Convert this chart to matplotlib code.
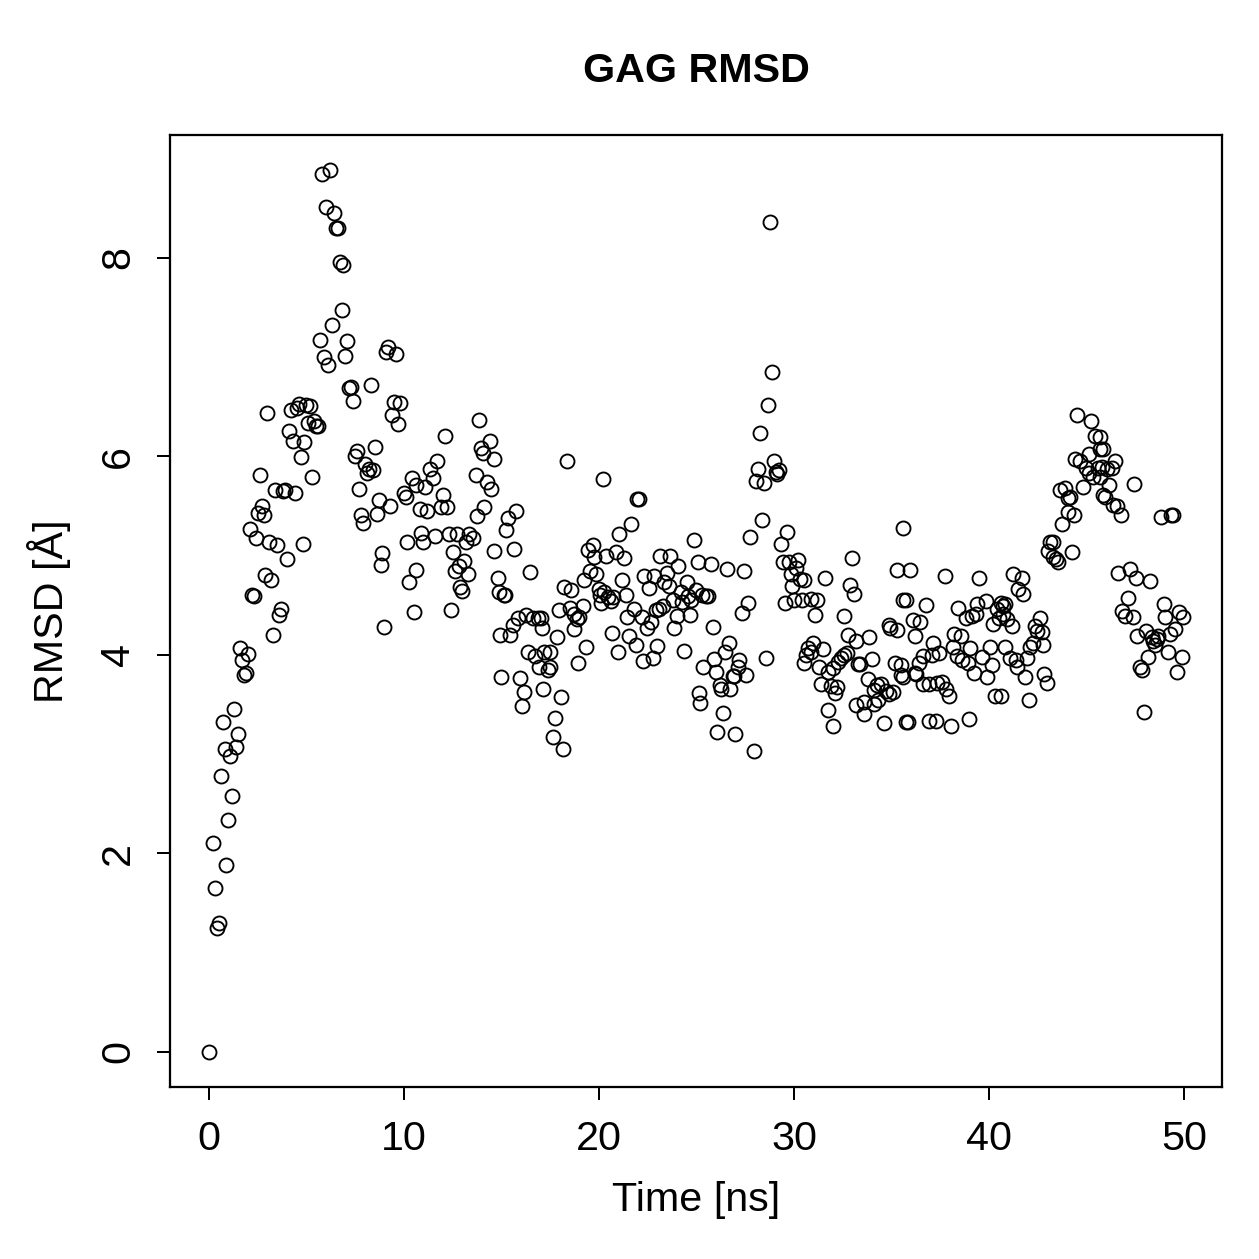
import numpy as np
import matplotlib
matplotlib.use("Agg")
import matplotlib.pyplot as plt

# RMSD of GAG over the trajectory
time_ns = [
    0.0, 0.2, 0.3, 0.4, 0.5, 0.6, 0.7, 0.8, 0.9, 1.0, 1.1, 1.2, 1.3, 1.4, 1.5, 1.6, 1.7, 1.8, 1.9, 2.0,
    2.1, 2.2, 2.3, 2.4, 2.5, 2.6, 2.7, 2.8, 2.9, 3.0, 3.1, 3.2, 3.3, 3.4, 3.5, 3.6, 3.7, 3.8, 3.9, 4.0,
    4.1, 4.2, 4.3, 4.4, 4.5, 4.6, 4.7, 4.8, 4.9, 5.0, 5.1, 5.2, 5.3, 5.4, 5.5, 5.6, 5.7, 5.8, 5.9, 6.0,
    6.1, 6.2, 6.3, 6.4, 6.5, 6.6, 6.7, 6.8, 6.9, 7.0, 7.1, 7.2, 7.3, 7.4, 7.5, 7.6, 7.7, 7.8, 7.9, 8.0,
    8.1, 8.2, 8.3, 8.4, 8.5, 8.6, 8.7, 8.8, 8.9, 9.0, 9.1, 9.2, 9.3, 9.4, 9.5, 9.6, 9.7, 9.8,
    10.0, 10.1, 10.18, 10.24, 10.4, 10.5, 10.6, 10.64, 10.8, 10.85, 11.0, 11.06, 11.2, 11.36, 11.5,
    11.57, 11.67, 11.9, 12.0, 12.1, 12.2, 12.3, 12.4, 12.5, 12.6, 12.7, 12.8, 12.85, 13.0, 13.1, 13.2,
    13.3, 13.36, 13.56, 13.67, 13.77, 13.87, 13.97, 14.05, 14.1, 14.28, 14.4, 14.45, 14.6, 14.64, 14.8,
    14.9, 14.94, 15.0,
    15.13, 15.2, 15.25, 15.35, 15.46, 15.6, 15.66, 15.76, 15.87, 15.97, 16.07, 16.17, 16.27, 16.37, 16.48,
    16.63, 16.7, 16.85, 16.9, 17.05, 17.1, 17.15, 17.2, 17.4, 17.5, 17.5, 17.66, 17.76, 17.86, 17.96, 18.07,
    18.17, 18.2, 18.37, 18.5, 18.57, 18.73, 18.73, 18.85, 18.9, 19.0, 19.18, 19.24, 19.35, 19.45, 19.55,
    19.7, 19.75, 19.86, 20.0, 20.05, 20.1,
    20.2, 20.27, 20.37, 20.47, 20.6, 20.67, 20.73, 20.88, 20.98, 21.04, 21.18, 21.29, 21.4, 21.45, 21.55,
    21.65, 21.8, 21.9, 21.95, 22.05, 22.2, 22.26, 22.3, 22.47, 22.57, 22.67, 22.77, 22.84, 22.9, 22.98,
    23.08, 23.13, 23.3, 23.35, 23.5, 23.6, 23.64, 23.8, 23.85, 24.0, 24.05, 24.2, 24.25, 24.36, 24.5,
    24.56, 24.67, 24.7, 24.87, 25.0, 25.08, 25.13, 25.18, 25.3, 25.33,
    25.5, 25.6, 25.75, 25.85, 25.9, 26.0, 26.05, 26.2, 26.25, 26.35, 26.45, 26.55, 26.66, 26.7, 26.87,
    26.9, 27.0, 27.12, 27.2, 27.33, 27.43, 27.53, 27.63, 27.74, 27.94, 28.05, 28.15, 28.25, 28.35, 28.45,
    28.55, 28.66, 28.77, 28.86, 28.97, 29.07, 29.12, 29.22, 29.32, 29.43, 29.53, 29.63, 29.73, 29.84,
    29.9, 30.0, 30.1, 30.2, 30.3,
    30.4, 30.5, 30.5, 30.6, 30.7, 30.86, 30.86, 31.0, 31.06, 31.17, 31.27, 31.37, 31.47, 31.58, 31.73,
    31.73, 31.88, 31.98, 32.0, 32.1, 32.2, 32.24, 32.4, 32.55, 32.55, 32.7, 32.75, 32.86, 32.96, 33.06,
    33.16, 33.2, 33.3, 33.4, 33.57, 33.6, 33.78, 33.83, 34.0, 34.08, 34.1, 34.24, 34.3, 34.44, 34.6,
    34.7, 34.85, 34.85, 34.9, 35.1, 35.16, 35.26, 35.3, 35.47, 35.47, 35.57, 35.6, 35.6, 35.77, 35.77,
    35.87, 35.93, 36.1, 36.2, 36.23, 36.28, 36.4, 36.45, 36.6, 36.64, 36.75, 36.9, 36.9, 37.1, 37.15,
    37.26, 37.36, 37.46, 37.6, 37.77, 37.8, 37.97, 38.07, 38.13, 38.23, 38.38, 38.43, 38.54, 38.64, 38.8,
    38.9, 38.95, 39.05, 39.15, 39.25, 39.35, 39.4, 39.5, 39.66, 39.87, 39.9, 40.07, 40.17, 40.2, 40.33,
    40.43, 40.5,
    40.6, 40.6, 40.7, 40.74, 40.8, 40.84, 40.94, 41.1, 41.2, 41.25, 41.4, 41.45, 41.5, 41.7, 41.76,
    41.86, 41.97, 42.07, 42.12, 42.27, 42.37, 42.48, 42.63, 42.73, 42.78, 42.83, 43.0, 43.04, 43.14,
    43.3, 43.3, 43.45, 43.55, 43.65, 43.75, 43.9, 44.06, 44.06, 44.16, 44.27, 44.37, 44.42, 44.52, 44.68,
    44.83, 44.98, 45.14, 45.14, 45.24, 45.34, 45.45, 45.6, 45.7, 45.7, 45.7, 45.8, 45.85, 45.85, 45.96,
    46.06, 46.16, 46.3, 46.37, 46.46, 46.57, 46.62, 46.78, 46.83, 46.98, 47.13, 47.24, 47.39, 47.44,
    47.54, 47.6, 47.75, 47.85, 47.95, 48.06, 48.16, 48.26, 48.36, 48.42, 48.5, 48.62, 48.67, 48.82,
    48.98, 49.03, 49.18, 49.28, 49.33, 49.44, 49.54, 49.64, 49.74, 49.9, 49.95,
]
rmsd = [
    0.0, 2.1, 1.65, 1.25, 1.3, 2.78, 3.32, 3.05, 1.88, 2.33, 2.98, 2.58, 3.45, 3.07, 3.2, 4.07, 3.95, 3.8, 3.82, 4.01,
    5.27, 4.6, 4.59, 5.18, 5.43, 5.81, 5.5, 5.41, 4.8, 6.43, 5.14, 4.75, 4.2, 5.66, 5.1, 4.4, 4.46, 5.65, 5.66, 4.96,
    6.25, 6.46, 6.15, 5.63, 6.48, 6.53, 5.99, 5.11, 6.14, 6.52, 6.33, 6.5, 5.79, 6.35, 6.3, 6.3, 7.17, 8.84, 7.0, 8.51,
    6.92, 8.88, 7.32, 8.45, 8.3, 8.3, 7.96, 7.47, 7.93, 7.01, 7.16, 6.69, 6.7, 6.56, 6.0, 6.05, 5.67, 5.41, 5.33, 5.92,
    5.83, 5.87, 6.72, 5.86, 6.09, 5.42, 5.56, 4.9, 5.02, 4.28, 7.05, 7.1, 5.5, 6.41, 6.55, 7.03, 6.32, 6.54,
    5.63, 5.59, 5.13, 4.73, 5.78, 4.43, 4.85, 5.71, 5.47, 5.23, 5.13, 5.69, 5.45, 5.87, 5.78,
    5.2, 5.95, 5.49, 5.61, 6.2, 5.49, 5.22, 4.45, 5.03, 4.84, 5.22, 4.89, 4.68, 4.64, 4.94, 5.14,
    4.81, 5.22, 5.18, 5.81, 5.4, 6.36, 6.08, 6.03, 5.49, 5.74, 6.15, 5.67, 5.97, 5.04, 4.77,
    4.63, 4.2, 3.78,
    4.6, 4.6, 5.26, 5.38, 4.2, 4.3, 5.06, 5.45, 4.37, 3.77, 3.48, 3.62, 4.4, 4.03, 4.83,
    4.37, 3.99, 4.37, 3.88, 4.37, 4.27, 3.65, 4.03, 3.85, 4.03, 3.88, 3.17, 3.36, 4.18, 4.45, 3.57,
    3.05, 4.68, 5.95, 4.47, 4.65, 4.41, 4.26, 4.36, 3.92, 4.38, 4.49, 4.75, 4.08, 5.05, 4.84,
    5.1, 4.98, 4.81, 4.66, 4.6, 4.52,
    5.77, 4.63, 4.99, 4.58, 4.54, 4.22, 4.58, 5.03, 4.03, 5.22, 4.75, 4.97, 4.6, 4.38, 4.19,
    5.32, 4.46, 4.1, 5.57, 5.57, 4.38, 3.94, 4.79, 4.27, 4.67, 4.33, 3.97, 4.79, 4.45, 4.09,
    4.46, 4.99, 4.49, 4.73, 4.82, 4.69, 4.99, 4.55, 4.27, 4.39, 4.89, 4.63, 4.53, 4.04, 4.73,
    4.59, 4.4, 4.55, 5.16, 4.65, 4.93, 3.61, 3.51, 4.6, 3.88,
    4.59, 4.59, 4.91, 4.28, 3.96, 3.83, 3.22, 3.69, 3.65, 3.41, 4.03, 4.86, 4.12, 3.65, 3.79,
    3.79, 3.2, 3.88, 3.95, 4.42, 4.84, 3.8, 4.52, 5.19, 3.03, 5.75, 5.87, 6.23, 5.36, 5.73,
    3.97, 6.52, 8.36, 6.85, 5.95, 5.84, 5.82, 5.86, 5.11, 4.93, 4.52, 5.24, 4.93, 4.81,
    4.69, 4.55, 4.87, 4.95, 4.76,
    4.55, 4.75, 3.92, 4.0, 4.07, 4.03, 4.56, 4.12, 4.4, 4.55, 3.88, 3.7, 4.06, 4.77, 3.83,
    3.44, 3.68, 3.28, 3.87, 3.61, 3.67, 3.93, 3.97, 4.0, 4.39, 4.02, 4.2, 4.7, 4.97, 4.61,
    4.14, 3.49, 3.91, 3.91, 3.4, 3.52, 3.75, 4.18, 3.96, 3.5, 3.64, 3.69, 3.54, 3.7, 3.31,
    3.63, 3.6, 4.3, 4.27, 3.62, 3.92, 4.85, 4.25, 3.8, 3.9, 5.28, 3.78, 4.55, 4.55, 3.32,
    3.32, 4.85, 4.35, 4.19, 3.82, 3.81, 3.92, 4.33, 3.7, 3.99, 4.5, 3.7, 3.33, 4.0, 4.12,
    3.33, 3.71, 4.02, 3.72, 4.79, 3.65, 3.58, 3.28, 4.08, 4.21, 3.99, 4.47, 4.19, 3.95, 4.37,
    3.92, 3.35, 4.07, 4.39, 3.82, 4.41, 4.51, 4.77, 3.98, 4.54, 3.78, 4.08, 3.9, 4.31, 3.58,
    4.46, 4.37,
    4.52, 3.58, 4.49, 4.41, 4.51, 4.08, 4.36, 3.97, 4.29, 4.81, 3.95, 3.88, 4.66, 4.77, 4.61,
    3.78, 3.97, 3.54, 4.08, 4.12, 4.29, 4.24, 4.37, 4.23, 4.1, 3.81, 3.71, 5.04, 5.13,
    5.14, 4.98, 4.96, 4.93, 5.66, 5.32, 5.68, 5.58, 5.44, 5.59, 5.03, 5.41, 5.97, 6.41, 5.95,
    5.69, 5.88, 6.02, 5.83, 6.35, 5.79, 6.2, 5.88, 6.07, 5.79, 6.19, 5.89, 5.61, 6.07, 5.59,
    5.87, 5.71, 5.88, 5.51, 5.95, 5.5, 4.82, 5.41, 4.44, 4.39, 4.57, 4.86, 4.38, 5.72,
    4.77, 4.19, 3.88, 3.85, 3.42, 4.24, 3.98, 4.74, 4.18, 4.14, 4.1, 4.16, 4.19, 5.39,
    4.51, 4.38, 4.03, 4.21, 5.41, 5.41, 4.26, 3.83, 4.43, 3.98, 4.38,
]

plt.rcParams["font.family"] = ["Liberation Sans", "DejaVu Sans"]

fig = plt.figure(figsize=(1259 / 180, 1259 / 180), dpi=180)
ax = fig.add_axes([0.135, 0.1366, 0.8356, 0.7562])

ax.plot(time_ns, rmsd, linestyle="none", marker="o", markersize=5.6,
        markerfacecolor="none", markeredgecolor="black", markeredgewidth=0.75)

# R-style 4% padding around the data range
t = np.array(time_ns)
r = np.array(rmsd)
ax.set_xlim(t.min() - 0.04 * np.ptp(t), t.max() + 0.04 * np.ptp(t))
ax.set_ylim(r.min() - 0.04 * np.ptp(r), r.max() + 0.04 * np.ptp(r))

ax.set_xticks([0, 10, 20, 30, 40, 50])
ax.set_yticks([0, 2, 4, 6, 8])
for lab in ax.get_yticklabels():
    lab.set_rotation(90)
    lab.set_va("center")
ax.tick_params(axis="both", direction="out", length=5.2, width=0.8,
               labelsize=16.5, pad=8)
for s in ax.spines.values():
    s.set_linewidth(0.9)

ax.set_xlabel("Time [ns]", fontsize=16.5, labelpad=9)
ax.set_ylabel("RMSD [Å]", fontsize=16.5, labelpad=11)
ax.set_title("GAG RMSD", fontsize=16.5, fontweight="bold", pad=21)

fig.savefig("out.png", dpi=180)
